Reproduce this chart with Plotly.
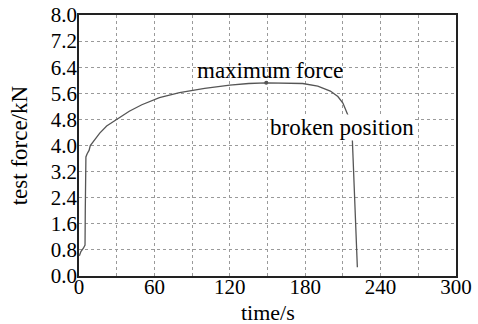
import plotly.graph_objects as go

time_s = [0.3, 1.5, 3.5, 4.8, 5.0, 5.2, 5.5, 6.5, 8, 9, 12, 16.5, 22, 27, 32, 40, 50, 64, 80,
          100, 120, 135, 149, 165, 178, 190, 200, 206, 210, 214, 216, 217.5, 219, 220.5, 221.5]
force_kN = [0.62, 0.75, 0.85, 0.95, 2.0, 3.0, 3.65, 3.75, 3.85, 4.0, 4.15, 4.38, 4.6, 4.72, 4.85,
            5.05, 5.25, 5.47, 5.62, 5.75, 5.85, 5.9, 5.92, 5.92, 5.9, 5.82, 5.67, 5.5, 5.3, 4.93,
            4.6, 4.19, 2.5, 1.2, 0.27]

max_idx = 22
broken_idx = 31

x_ticks = [0, 60, 120, 180, 240, 300]
x_minor = [30, 90, 150, 210, 270]
y_ticks = [0.0, 0.8, 1.6, 2.4, 3.2, 4.0, 4.8, 5.6, 6.4, 7.2, 8.0]

font_family = "Liberation Serif, Times New Roman, serif"

fig = go.Figure()
fig.add_trace(go.Scatter(x=time_s, y=force_kN, mode="lines",
                         line=dict(color="#555555", width=1.3), showlegend=False))
fig.add_trace(go.Scatter(x=[time_s[max_idx]], y=[force_kN[max_idx]], mode="markers",
                         marker=dict(symbol="circle", size=4, color="#555555"), showlegend=False))

fig.add_annotation(x=152, y=6.31, text="maximum force", showarrow=False,
                   font=dict(family=font_family, size=23, color="black"))
fig.add_annotation(x=209.6, y=4.56, text="broken position", showarrow=False,
                   bgcolor="white", borderpad=0,
                   font=dict(family=font_family, size=23, color="black"))

fig.add_trace(go.Scatter(x=[time_s[broken_idx]], y=[force_kN[broken_idx]], mode="markers",
                         marker=dict(symbol="line-ew", size=5, color="#555555",
                                     line=dict(width=1, color="#555555")), showlegend=False))

axis_common = dict(showline=True, linecolor="#222222", linewidth=1.5, mirror=True,
                   showgrid=True, gridcolor="#9a9a9a", griddash="dot", gridwidth=1,
                   zeroline=False, ticks="", ticklen=0, automargin=False,
                   tickfont=dict(family=font_family, size=21, color="black"))

fig.update_xaxes(range=[0, 300], tickmode="array", tickvals=x_ticks,
                 ticktext=[str(v) for v in x_ticks], ticklabelstandoff=-9,
                 minor=dict(tickvals=x_minor, showgrid=True,
                            gridcolor="#9a9a9a", griddash="dot", gridwidth=1),
                 **axis_common)
fig.update_yaxes(range=[0, 8.0], tickmode="array", tickvals=y_ticks,
                 ticktext=[f"{v:.1f}" for v in y_ticks], ticklabelstandoff=-4,
                 **axis_common)

# axis titles
fig.add_annotation(xref="paper", yref="paper", x=0.5, y=-0.139, yanchor="middle",
                   text="time/s", showarrow=False,
                   font=dict(family=font_family, size=22, color="black"))
fig.add_annotation(xref="paper", yref="paper", x=-0.157, y=0.5, xanchor="center",
                   yanchor="middle", text="test force/kN", showarrow=False, textangle=-90,
                   font=dict(family=font_family, size=23, color="black"))

fig.update_layout(width=478, height=324, margin=dict(l=79, r=22, t=15, b=48),
                  plot_bgcolor="white", paper_bgcolor="white")

fig.write_html("out.html", config={"displayModeBar": False},
               post_script="document.body.style.margin='0';document.body.style.overflow='hidden';")
